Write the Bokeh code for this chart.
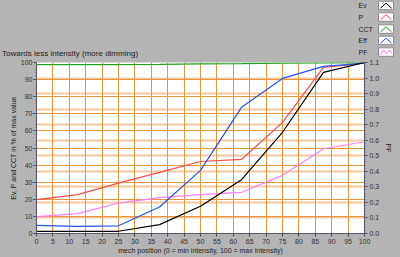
from bokeh.plotting import figure
from bokeh.models import Range1d, LinearAxis, FixedTicker, Grid, NumeralTickFormatter
from bokeh.layouts import column
from bokeh.core.properties import value
from bokeh.embed import file_html
from bokeh.resources import INLINE

# ---- data ----
mech_position = [0, 12.5, 25, 37.5, 50, 62.5, 75, 87.5, 100]
ev  = [1.2, 1.2, 1.3, 5.2, 15.9, 31.5, 59.2, 94.2, 100]
p   = [19.8, 22.7, 29.5, 35.7, 42.1, 43.3, 65.0, 97.1, 99.6]
cct = [98.7, 98.7, 98.7, 98.9, 99.2, 99.3, 99.6, 99.8, 100]
eff = [4.8, 4.2, 4.5, 15.5, 36.9, 73.8, 90.7, 97.7, 99.6]
pf  = [0.109, 0.128, 0.196, 0.231, 0.25, 0.265, 0.374, 0.545, 0.59]

series_names = ["Ev", "P", "CCT", "Eff", "PF"]
series_colors = ["#000000", "#FF4A4A", "#22A022", "#2255EE", "#FF7FFF"]

left_ticks = list(range(0, 101, 10))
right_ticks = [round(0.1 * i, 1) for i in range(12)]
bottom_ticks = list(range(0, 101, 5))

title_text = "Towards less intensity (more dimming)"
x_label = "mech position (0 = min intensity, 100 = max intensity)"
y_label = "Ev, P and CCT in % of max value"
y2_label = "PF"

W, H = 400, 257
TOP_H = 58
BG = "#B4B4B4"
GRID = "#E8953F"
FONT = "Liberation Sans"

# ---------------- header figure: title + legend ----------------
hdr = figure(width=W, height=TOP_H, output_backend="svg", toolbar_location=None,
             x_range=Range1d(0, W), y_range=Range1d(TOP_H, 0),
             x_axis_type=None, y_axis_type=None,
             min_border_left=0, min_border_right=0, min_border_top=0, min_border_bottom=0)
hdr.frame_align = False
hdr.background_fill_color = BG
hdr.border_fill_color = BG
hdr.outline_line_color = None
hdr.xgrid.visible = False
hdr.ygrid.visible = False

hdr.text(x=[1.5], y=[52.5], text=[title_text], text_font=value(FONT),
         text_font_size="8px", text_color="#222222", text_baseline="middle")

row_top = [0.7, 12.3, 24.3, 35.7, 47.3]
hdr.text(x=[358] * len(series_names), y=[r + 4.5 for r in row_top], text=series_names,
         text_font=value(FONT), text_font_size="7px", text_color="#222222",
         text_baseline="middle")
hdr.quad(left=[378] * 5, right=[393] * 5, top=row_top, bottom=[r + 8.5 for r in row_top],
         fill_color="white", line_color="#8A8A8A", line_width=1)
xs, ys = [], []
for i, name in enumerate(series_names):
    yt = row_top[i]
    if name == "PF":
        xs.append([380, 383, 386, 389, 391.5])
        ys.append([yt + 7, yt + 2, yt + 6, yt + 2, yt + 6])
    else:
        xs.append([380, 385.5, 391])
        ys.append([yt + 7, yt + 2, yt + 7])
hdr.multi_line(xs=xs, ys=ys, line_color=series_colors, line_width=1)

# ---------------- main chart ----------------
p_fig = figure(width=W, height=H - TOP_H, output_backend="svg", toolbar_location=None,
               x_range=Range1d(0, 100), y_range=Range1d(0, 100),
               min_border_left=36, min_border_right=36, min_border_top=4,
               min_border_bottom=24)
p_fig.frame_align = False
p_fig.background_fill_color = "white"
p_fig.border_fill_color = BG
p_fig.outline_line_color = None
p_fig.extra_y_ranges = {"pf": Range1d(0, 1.1)}

xa = p_fig.xaxis[0]
xa.ticker = FixedTicker(ticks=bottom_ticks)
xa.axis_label = x_label
ya = p_fig.yaxis[0]
ya.ticker = FixedTicker(ticks=left_ticks, minor_ticks=list(range(0, 101, 2)))
ya.axis_label = y_label
ra = LinearAxis(y_range_name="pf", ticker=FixedTicker(ticks=right_ticks,
                minor_ticks=[round(0.02 * i, 2) for i in range(56)]),
                formatter=NumeralTickFormatter(format="0.0"), axis_label=y2_label)
p_fig.add_layout(ra, "right")

for ax in [xa, ya, ra]:
    ax.major_label_text_font = FONT
    ax.major_label_text_font_size = "7px"
    ax.major_label_text_color = "#333333"
    ax.axis_label_text_font = FONT
    ax.axis_label_text_font_size = "7px"
    ax.axis_label_text_font_style = "normal"
    ax.axis_label_text_color = "#222222"
    ax.axis_line_color = "#555566"
    ax.major_tick_line_color = "#444455"
    ax.minor_tick_line_color = "#666677"
    ax.major_tick_in = 0
    ax.major_tick_out = 3
    ax.minor_tick_in = 0
    ax.minor_tick_out = 1
    ax.major_label_standoff = 2
    ax.axis_label_standoff = 3
xa.minor_tick_line_color = None
xa.axis_label_standoff = 0
ya.axis_label_standoff = 1
ya.major_label_standoff = 1

p_fig.xgrid.grid_line_color = GRID
p_fig.xgrid.ticker = FixedTicker(ticks=bottom_ticks)
p_fig.ygrid.grid_line_color = GRID
p_fig.ygrid.ticker = FixedTicker(ticks=left_ticks)
g2 = Grid(dimension=1, ticker=FixedTicker(ticks=right_ticks), y_range_name="pf",
          grid_line_color=GRID, grid_line_alpha=0.5, grid_line_width=2)
p_fig.add_layout(g2)

p_fig.line(mech_position, cct, color=series_colors[2], line_width=1.3)
p_fig.line(mech_position, pf, color=series_colors[4], line_width=1.2, y_range_name="pf")
p_fig.line(mech_position, p, color=series_colors[1], line_width=1.2)
p_fig.line(mech_position, eff, color=series_colors[3], line_width=1.2)
p_fig.line(mech_position, ev, color=series_colors[0], line_width=1.2)

layout = column(hdr, p_fig, spacing=0)
layout.styles = {"background-color": BG}

open("out.html", "w").write(file_html(layout, INLINE))
